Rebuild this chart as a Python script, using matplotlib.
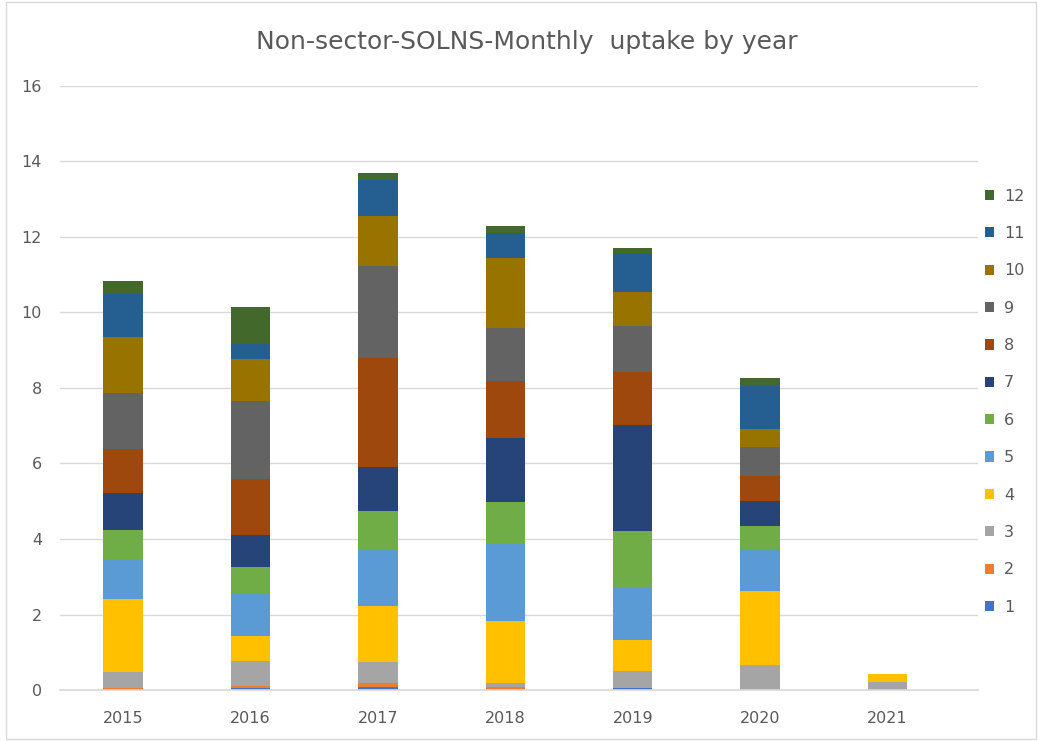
import matplotlib.pyplot as plt
import matplotlib.patches as patches
import numpy as np

years = ['2015', '2016', '2017', '2018', '2019', '2020', '2021']
months = ['1', '2', '3', '4', '5', '6', '7', '8', '9', '10', '11', '12']

# values per month series (one entry per year)
m1 = [0.03, 0.06, 0.09, 0.03, 0.05, 0.00, 0.00]
m2 = [0.03, 0.04, 0.09, 0.06, 0.00, 0.00, 0.04]
m3 = [0.42, 0.67, 0.56, 0.09, 0.46, 0.66, 0.16]
m4 = [1.93, 0.66, 1.48, 1.65, 0.81, 1.96, 0.23]
m5 = [1.06, 1.14, 1.52, 2.06, 1.38, 1.12, 0.00]
m6 = [0.77, 0.69, 1.00, 1.09, 1.51, 0.60, 0.00]
m7 = [0.98, 0.85, 1.17, 1.70, 2.81, 0.66, 0.00]
m8 = [1.16, 1.48, 2.88, 1.51, 1.40, 0.67, 0.00]
m9 = [1.49, 2.07, 2.44, 1.41, 1.23, 0.77, 0.00]
m10 = [1.48, 1.11, 1.33, 1.83, 0.89, 0.47, 0.00]
m11 = [1.15, 0.40, 0.96, 0.67, 1.04, 1.14, 0.00]
m12 = [0.34, 0.97, 0.17, 0.20, 0.14, 0.22, 0.00]

series = [m1, m2, m3, m4, m5, m6, m7, m8, m9, m10, m11, m12]
colors = ['#4472C4', '#ED7D31', '#A5A5A5', '#FFC000', '#5B9BD5', '#70AD47',
          '#264478', '#9E480E', '#636363', '#997300', '#255E91', '#43682B']

fig = plt.figure(figsize=(10.38, 7.41), dpi=100)
ax = fig.add_axes([0.0578, 0.0688, 0.884, 0.8152])

x = np.arange(len(years))
bottom = np.zeros(len(years))
handles = []
for vals, col, lab in zip(series, colors, months):
    h = ax.bar(x, vals, width=0.31, bottom=bottom, color=col, label=lab, linewidth=0)
    handles.append(h)
    bottom += np.array(vals)

ax.set_xlim(-0.494, 6.706)
ax.set_ylim(0, 16)
ax.set_yticks(range(0, 17, 2))
ax.set_xticks(x)
ax.set_xticklabels(years)
ax.yaxis.grid(True, color='#D9D9D9', linewidth=1)
ax.set_axisbelow(True)
for s in ['top', 'right', 'left']:
    ax.spines[s].set_visible(False)
ax.spines['bottom'].set_color('#D9D9D9')
ax.spines['bottom'].set_linewidth(1.2)
ax.tick_params(axis='both', length=0, colors='#595959', labelsize=11.5)
ax.tick_params(axis='x', pad=15)
ax.tick_params(axis='y', pad=13)

fig.text(0.508, 0.943, 'Non-sector-SOLNS-Monthly  uptake by year', ha='center', va='center',
         fontsize=18, color='#595959')

leg = fig.legend(handles[::-1], months[::-1], loc='center left', bbox_to_anchor=(0.935, 0.458),
                 frameon=False, fontsize=11.5, labelspacing=1.4, handlelength=0.6,
                 handleheight=0.6, handletextpad=0.6)
for t in leg.get_texts():
    t.set_color('#595959')

fig.patches.append(patches.Rectangle((0.006, 0.003), 0.992, 0.994, transform=fig.transFigure,
                                     fill=False, edgecolor='#D9D9D9', linewidth=1))

fig.savefig('out.png', dpi=100)
